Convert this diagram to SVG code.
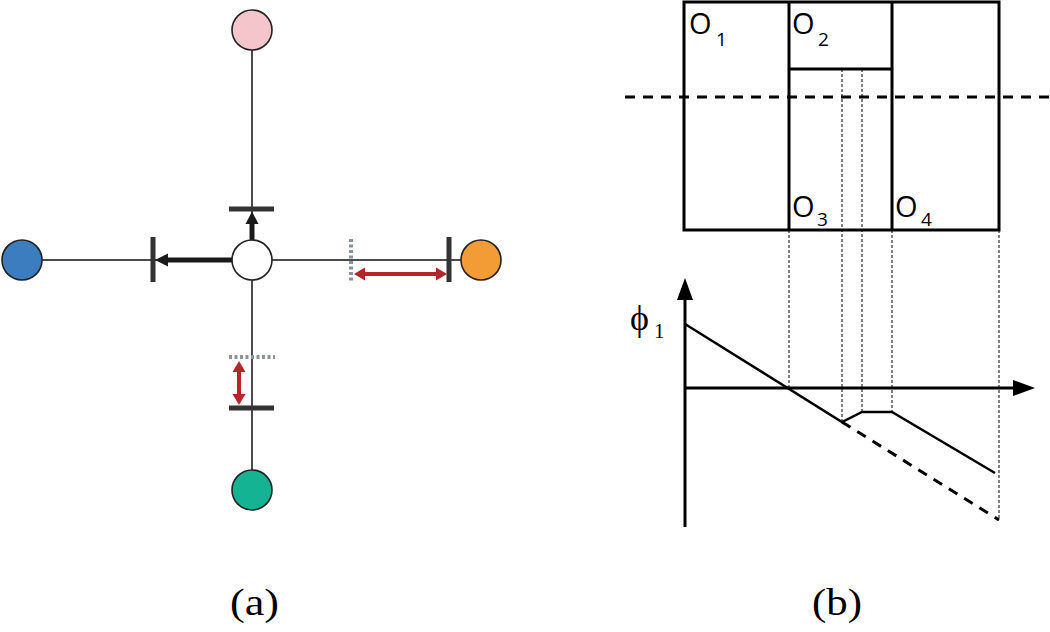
<svg xmlns="http://www.w3.org/2000/svg" width="1050" height="632" viewBox="0 0 1050 632">
<defs>
<style>
.thin{stroke:#111;stroke-width:1.5;fill:none}
.node{stroke:#222;stroke-width:1.6}
.bar{stroke:#333;stroke-width:5;fill:none}
.gdash{stroke:#8a9399;stroke-width:4;stroke-dasharray:3 2.5;fill:none}
.red{stroke:#b5262b;stroke-width:4;fill:none}
.redh{fill:#b5262b}
.blk{stroke:#1a1a1a;stroke-width:5;fill:none}
.blkh{fill:#1a1a1a}
.box{stroke:#000;stroke-width:3;fill:none}
.dot{stroke:#000;stroke-width:1;stroke-dasharray:3 2;fill:none}
.dash{stroke:#000;stroke-width:3;stroke-dasharray:10 8;fill:none}
.lbl{font-family:"Open Sans","Liberation Sans",sans-serif;font-size:29px;fill:#000}
.sub{font-family:"Open Sans","Liberation Sans",sans-serif;font-size:19px;fill:#000}
.cap{font-family:"Liberation Serif","DejaVu Serif",serif;font-size:38px;fill:#000}
</style>
</defs>
<rect width="1050" height="632" fill="#fff"/>

<!-- Panel (a) -->
<g id="connectors">
<line class="thin" x1="252" y1="50" x2="252" y2="470"/>
<line class="thin" x1="42" y1="260" x2="461" y2="260"/>
<line class="bar" x1="229" y1="209" x2="274" y2="209"/>
<line class="bar" x1="153" y1="237" x2="153" y2="282"/>
<line class="bar" x1="449" y1="237" x2="449" y2="282"/>
<line class="bar" x1="229" y1="408" x2="274" y2="408"/>
<line class="gdash" x1="351" y1="239" x2="351" y2="283"/>
<line class="gdash" x1="229" y1="357" x2="275" y2="357"/>
<line class="blk" x1="252" y1="241" x2="252" y2="222"/>
<path class="blkh" d="M245.5,224 L252,211.5 L258.5,224 Z"/>
<line class="blk" x1="233" y1="260" x2="166" y2="260"/>
<path class="blkh" d="M168,253.5 L155,260 L168,266.5 Z"/>
<line class="red" x1="362" y1="274" x2="439" y2="274"/>
<path class="redh" d="M365,267.5 L354,274 L365,280.5 Z"/>
<path class="redh" d="M436,267.5 L447,274 L436,280.5 Z"/>
<line class="red" x1="239" y1="369" x2="239" y2="397"/>
<path class="redh" d="M232.5,372 L239,361 L245.5,372 Z"/>
<path class="redh" d="M232.5,394 L239,405 L245.5,394 Z"/>
</g>
<g id="center"><circle class="node" cx="252" cy="260" r="20" fill="#fff"/></g>
<g id="pink"><circle class="node" cx="252" cy="30" r="20" fill="#f4c6cb"/></g>
<g id="blue"><circle class="node" cx="22" cy="260" r="20" fill="#3c7dbf"/></g>
<g id="orange"><circle class="node" cx="481" cy="260" r="20" fill="#f39c35"/></g>
<g id="green"><circle class="node" cx="252" cy="490" r="20" fill="#13b394"/></g>
<text class="cap" x="230" y="615" textLength="49" lengthAdjust="spacingAndGlyphs">(a)</text>

<!-- Panel (b) -->
<g id="panel-b">
<rect class="box" x="684" y="2" width="315" height="228"/>
<line class="box" x1="789" y1="2" x2="789" y2="230"/>
<line class="box" x1="892" y1="2" x2="892" y2="230"/>
<line class="box" x1="789" y1="69" x2="892" y2="69"/>
<line class="dash" x1="625" y1="97" x2="1050" y2="97"/>
<line class="dot" x1="842" y1="69" x2="842" y2="422"/>
<line class="dot" x1="862" y1="69" x2="862" y2="412"/>
<line class="dot" x1="789" y1="230" x2="789" y2="388"/>
<line class="dot" x1="892" y1="230" x2="892" y2="412"/>
<line class="dot" x1="999" y1="230" x2="999" y2="520"/>
<text class="lbl" x="689" y="34">O</text><text class="sub" x="716" y="46">1</text>
<text class="lbl" x="792" y="34">O</text><text class="sub" x="818" y="46">2</text>
<text class="lbl" x="792" y="217">O</text><text class="sub" x="817" y="226">3</text>
<text class="lbl" x="895" y="217">O</text><text class="sub" x="921" y="226">4</text>
<!-- axes -->
<line stroke="#000" stroke-width="3" x1="685" y1="527" x2="685" y2="298"/>
<path d="M677,300 L685,278 L693,300 Z" fill="#000"/>
<line stroke="#000" stroke-width="3" x1="685" y1="388" x2="1015" y2="388"/>
<path d="M1013,380 L1035,388 L1013,396 Z" fill="#000"/>
<polyline fill="none" stroke="#000" stroke-width="2.5" points="685,324 842,422 862,412 892,412 995,473"/>
<line class="dash" stroke-width="2.5" x1="842" y1="422" x2="999" y2="520"/>
<text x="630" y="330" font-family="Liberation Serif,DejaVu Serif,serif" font-size="36">ϕ</text>
<text x="654" y="338" font-family="Liberation Serif,DejaVu Serif,serif" font-size="21">1</text>
</g>
<text class="cap" x="812" y="615" textLength="50" lengthAdjust="spacingAndGlyphs">(b)</text>
</svg>
